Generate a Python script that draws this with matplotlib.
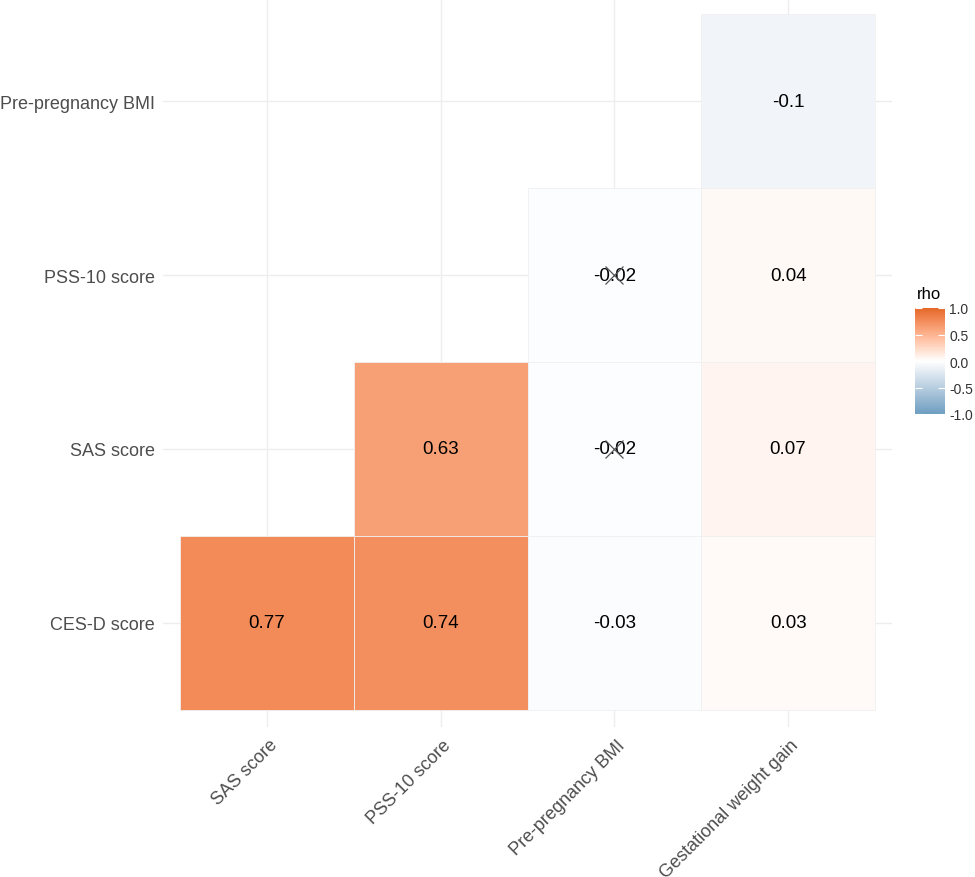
import numpy as np
import matplotlib
matplotlib.use("Agg")
import matplotlib.pyplot as plt
import matplotlib.transforms as mtransforms
from matplotlib.colors import LinearSegmentedColormap, Normalize
from matplotlib.cm import ScalarMappable

# ---- data ----
x_labels = ["SAS score", "PSS-10 score", "Pre-pregnancy BMI", "Gestational weight gain"]
y_labels = ["CES-D score", "SAS score", "PSS-10 score", "Pre-pregnancy BMI"]  # bottom to top

cell_x = ["Gestational weight gain",
          "Pre-pregnancy BMI", "Gestational weight gain",
          "PSS-10 score", "Pre-pregnancy BMI", "Gestational weight gain",
          "SAS score", "PSS-10 score", "Pre-pregnancy BMI", "Gestational weight gain"]
cell_y = ["Pre-pregnancy BMI",
          "PSS-10 score", "PSS-10 score",
          "SAS score", "SAS score", "SAS score",
          "CES-D score", "CES-D score", "CES-D score", "CES-D score"]
rho = [-0.10,
       -0.02, 0.04,
       0.63, -0.02, 0.07,
       0.77, 0.74, -0.03, 0.03]
insignificant = [False,
                 True, False,
                 False, True, False,
                 False, False, False, False]

low_col, mid_col, high_col = "#6D9EC1", "#FFFFFF", "#E46726"

# ---- Lab interpolation (like ggplot2 gradient2) ----
def hex2rgb(h):
    h = h.lstrip("#")
    return np.array([int(h[i:i+2], 16) / 255 for i in (0, 2, 4)])

def rgb2lab(c):
    c = np.where(c > 0.04045, ((c + 0.055) / 1.055) ** 2.4, c / 12.92)
    M = np.array([[0.4124, 0.3576, 0.1805], [0.2126, 0.7152, 0.0722], [0.0193, 0.1192, 0.9505]])
    xyz = M @ c
    xyz = xyz / np.array([0.95047, 1.0, 1.08883])
    f = np.where(xyz > 0.008856, np.cbrt(xyz), 7.787 * xyz + 16 / 116)
    return np.array([116 * f[1] - 16, 500 * (f[0] - f[1]), 200 * (f[1] - f[2])])

def lab2rgb(lab):
    L, a, b = lab
    fy = (L + 16) / 116
    fx = fy + a / 500
    fz = fy - b / 200
    f = np.array([fx, fy, fz])
    xyz = np.where(f ** 3 > 0.008856, f ** 3, (f - 16 / 116) / 7.787)
    xyz = xyz * np.array([0.95047, 1.0, 1.08883])
    Minv = np.array([[3.2406, -1.5372, -0.4986], [-0.9689, 1.8758, 0.0415], [0.0557, -0.2040, 1.0570]])
    c = Minv @ xyz
    c = np.where(c > 0.0031308, 1.055 * np.clip(c, 0, None) ** (1 / 2.4) - 0.055, 12.92 * c)
    return np.clip(c, 0, 1)

lab_low, lab_mid, lab_high = rgb2lab(hex2rgb(low_col)), rgb2lab(hex2rgb(mid_col)), rgb2lab(hex2rgb(high_col))

def val2col(v):
    if v >= 0:
        return lab2rgb(lab_mid + (lab_high - lab_mid) * v)
    return lab2rgb(lab_mid + (lab_low - lab_mid) * (-v))

cmap = LinearSegmentedColormap.from_list("rho", [val2col(v) for v in np.linspace(-1, 1, 256)])

plt.rcParams["font.family"] = ["Liberation Sans", "DejaVu Sans"]

fig = plt.figure(figsize=(9.75, 8.78), dpi=100)
ax = fig.add_axes([163 / 975, 1 - 728 / 878, 729 / 975, 730 / 878])
ax.set_xlim(-0.598, 3.598)
ax.set_ylim(-0.598, 3.598)

grid_col = "#EDEDED"
for i in range(len(x_labels)):
    ax.axvline(i, color=grid_col, lw=1.0, zorder=0)
for j in range(len(y_labels)):
    ax.axhline(j, color=grid_col, lw=1.0, zorder=0)

for cx, cy, v, ins in zip(cell_x, cell_y, rho, insignificant):
    xi = x_labels.index(cx)
    yi = y_labels.index(cy)
    ax.add_patch(plt.Rectangle((xi - 0.5, yi - 0.5), 1, 1, facecolor=val2col(v),
                               edgecolor="#F0F0F0", lw=0.6, zorder=1))
    ax.text(xi, yi, f"{round(v, 2):g}", ha="center", va="center", fontsize=13.5,
            color="black", zorder=3)
    if ins:
        ax.plot(xi, yi, marker="x", ms=13, mew=0.9, color="#555555", zorder=4)

for s in ax.spines.values():
    s.set_visible(False)
ax.set_xticks(range(len(x_labels)))
ax.set_xticklabels(x_labels, rotation=45, ha="right", va="top", rotation_mode="anchor",
                   fontsize=13, color="#4D4D4D")
ax.set_yticks(range(len(y_labels)))
ax.set_yticklabels(y_labels, fontsize=13, color="#4D4D4D")
ax.tick_params(axis="y", length=0, pad=6)
ax.tick_params(axis="x", length=0, pad=0)
offset = mtransforms.ScaledTranslation(2 / 100, -9 / 100, fig.dpi_scale_trans)
for lbl in ax.get_xticklabels():
    lbl.set_transform(lbl.get_transform() + offset)

# ---- colorbar ----
cax = fig.add_axes([915 / 975, 1 - 415 / 878, 30 / 975, 106 / 878])
sm = ScalarMappable(norm=Normalize(-1, 1), cmap=cmap)
cb = fig.colorbar(sm, cax=cax)
cb.outline.set_visible(False)
cb.set_ticks([-1, -0.5, 0, 0.5, 1])
cb.set_ticklabels(["-1.0", "-0.5", "0.0", "0.5", "1.0"])
cax.yaxis.set_ticks_position("both")
cax.tick_params(axis="y", direction="in", color="white", length=5, width=0.8,
                labelsize=10, labelcolor="#333333", pad=3, labelright=True, labelleft=False)
fig.text(917 / 975, 1 - 295 / 878, "rho", fontsize=12, ha="left", va="center", color="black")

fig.savefig("out.png", dpi=100, facecolor="white")
